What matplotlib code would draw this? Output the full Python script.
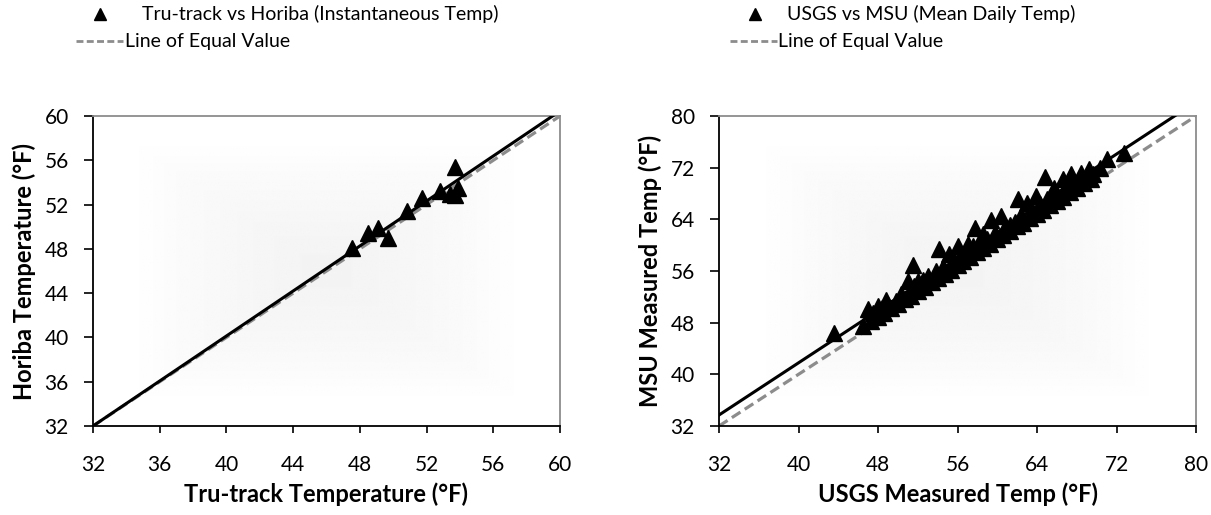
import numpy as np
import matplotlib
matplotlib.use("Agg")
import matplotlib.pyplot as plt
from matplotlib.lines import Line2D

plt.rcParams['font.family'] = ['Lato', 'DejaVu Sans']

# left panel: Tru-track vs Horiba (instantaneous)
trutrack = [47.5, 48.5, 49.1, 49.7, 50.8, 51.7, 52.8, 53.7, 53.9, 53.7, 53.4]
horiba = [48.1, 49.4, 49.9, 49.0, 51.4, 52.6, 53.2, 55.4, 53.5, 52.9, 53.0]
left_fit = (1.016, -0.51)

# right panel: USGS vs MSU (mean daily)
usgs = [43.6, 47.0, 48.0, 48.8, 49.8, 51.0, 51.5, 52.0, 54.1, 55.1, 56.0, 57.1,
        57.8, 58.6, 59.4, 60.4, 61.3, 62.1, 63.0, 63.9, 64.8, 65.7, 66.6, 67.4,
        68.4, 69.2, 71.0, 72.8,
        46.5, 47.3, 48.0, 48.6, 49.3, 50.0, 50.7, 51.3, 52.0, 52.7, 53.4, 54.0,
        54.7, 55.3, 56.0, 56.6, 57.3, 58.0, 58.6, 59.3, 60.0, 60.6, 61.3, 62.0,
        62.6, 63.3, 64.0, 64.6, 65.3, 66.0, 66.6, 67.3, 68.0, 68.7, 69.4,
        47.5, 48.4, 49.0, 50.3, 51.6, 52.5, 53.0, 53.8, 54.5, 55.6, 56.4, 57.0,
        57.6, 58.3, 59.0, 59.8, 60.8, 61.8, 62.4, 63.5, 64.3, 65.0, 65.9, 66.8,
        67.7, 68.5, 69.6, 70.3]
msu = [46.4, 50.1, 50.6, 51.5, 51.4, 54.5, 56.9, 54.5, 59.4, 58.6, 59.9, 60.2,
       62.6, 61.7, 63.9, 64.5, 63.1, 67.1, 66.6, 67.6, 70.5, 68.9, 70.2, 71.0,
       71.2, 71.8, 73.3, 74.3,
       47.5, 48.2, 48.9, 49.5, 50.2, 50.9, 51.6, 52.2, 52.9, 53.5, 54.3, 54.9,
       55.6, 56.2, 56.9, 57.5, 58.2, 58.9, 59.5, 60.2, 60.9, 61.5, 62.2, 62.9,
       63.5, 64.2, 64.9, 65.5, 66.2, 66.9, 67.5, 68.2, 68.9, 69.6, 70.3,
       49.5, 50.3, 50.8, 52.4, 53.7, 54.6, 55.3, 56.0, 56.6, 57.6, 58.6, 59.0,
       59.8, 60.4, 61.0, 61.9, 62.8, 63.6, 64.6, 65.4, 66.4, 67.2, 67.9, 68.8,
       69.8, 70.4, 71.0, 72.0]
right_fit = (1.01, 1.38)

left_ticks = [32, 36, 40, 44, 48, 52, 56, 60]
right_ticks = [32, 40, 48, 56, 64, 72, 80]


def shade(ax, lo, hi):
    # soft grey fill from the centre, like the Excel plot area
    n = 200
    u = np.linspace(-1, 1, n)
    uu, vv = np.meshgrid(u, u)
    g = np.maximum(np.abs(uu), np.abs(vv))
    img = 0.955 + 0.045 * np.clip(g / 0.85, 0, 1) ** 1.5
    ax.imshow(img, cmap='gray', vmin=0, vmax=1, extent=(lo, hi, lo, hi),
              aspect='auto', zorder=0, interpolation='bilinear')


def panel(ax, x, y, fit, ticks, xlabel, ylabel):
    lo, hi = ticks[0], ticks[-1]
    shade(ax, lo, hi)
    line_x = np.array([lo, hi])
    ax.plot(line_x, line_x, color='#8c8c8c', lw=2.3, dashes=(3.2, 1.6), zorder=2)
    ax.plot(line_x, fit[0] * line_x + fit[1], color='black', lw=2.2, zorder=3)
    ax.plot(x, y, '^', color='black', ms=11, zorder=4)
    ax.set_xlim(lo, hi)
    ax.set_ylim(lo, hi)
    ax.set_xticks(ticks)
    ax.set_yticks(ticks)
    ax.tick_params(axis='x', direction='out', length=5, width=1.2, labelsize=15, pad=16)
    ax.tick_params(axis='y', direction='out', length=6.5, width=1.2, labelsize=15, pad=11)
    for s in ['left', 'bottom']:
        ax.spines[s].set_color('black')
        ax.spines[s].set_linewidth(1.3)
    for s in ['top', 'right']:
        ax.spines[s].set_color('#8c8c8c')
        ax.spines[s].set_linewidth(1.3)
    ax.set_xlabel(xlabel, fontsize=17, fontweight='bold', labelpad=5)
    ax.set_ylabel(ylabel, fontsize=17, fontweight='bold', labelpad=6)


fig = plt.figure(figsize=(12.11, 5.15), dpi=100)
W, H = 1211, 515
ax1 = fig.add_axes([93 / W, 1 - 426 / H, (560 - 93) / W, (426 - 116) / H])
ax2 = fig.add_axes([719 / W, 1 - 426 / H, (1196 - 719) / W, (426 - 116) / H])

panel(ax1, trutrack, horiba, left_fit, left_ticks,
      'Tru-track Temperature (°F)', 'Horiba Temperature (°F)')
panel(ax2, usgs, msu, right_fit, right_ticks,
      'USGS Measured Temp (°F)', 'MSU Measured Temp (°F)')


def legend(x_tri, x_txt1, x_l0, x_l1, x_txt2, label):
    fig.add_artist(Line2D([x_tri / W], [1 - 14 / H], marker='^', color='black',
                          ms=9, transform=fig.transFigure))
    fig.text(x_txt1 / W, 1 - 14 / H, label, fontsize=14, va='center')
    fig.add_artist(Line2D([x_l0 / W, x_l1 / W], [1 - 41 / H, 1 - 41 / H],
                          color='#8c8c8c', lw=2, dashes=(2.5, 1.2),
                          transform=fig.transFigure))
    fig.text(x_txt2 / W, 1 - 41 / H, 'Line of Equal Value', fontsize=14, va='center')


legend(100, 142, 76, 123, 125, 'Tru-track vs Horiba (Instantaneous Temp)')
legend(755, 787, 730, 777, 778, 'USGS vs MSU (Mean Daily Temp)')

fig.savefig('out.png', dpi=100)
